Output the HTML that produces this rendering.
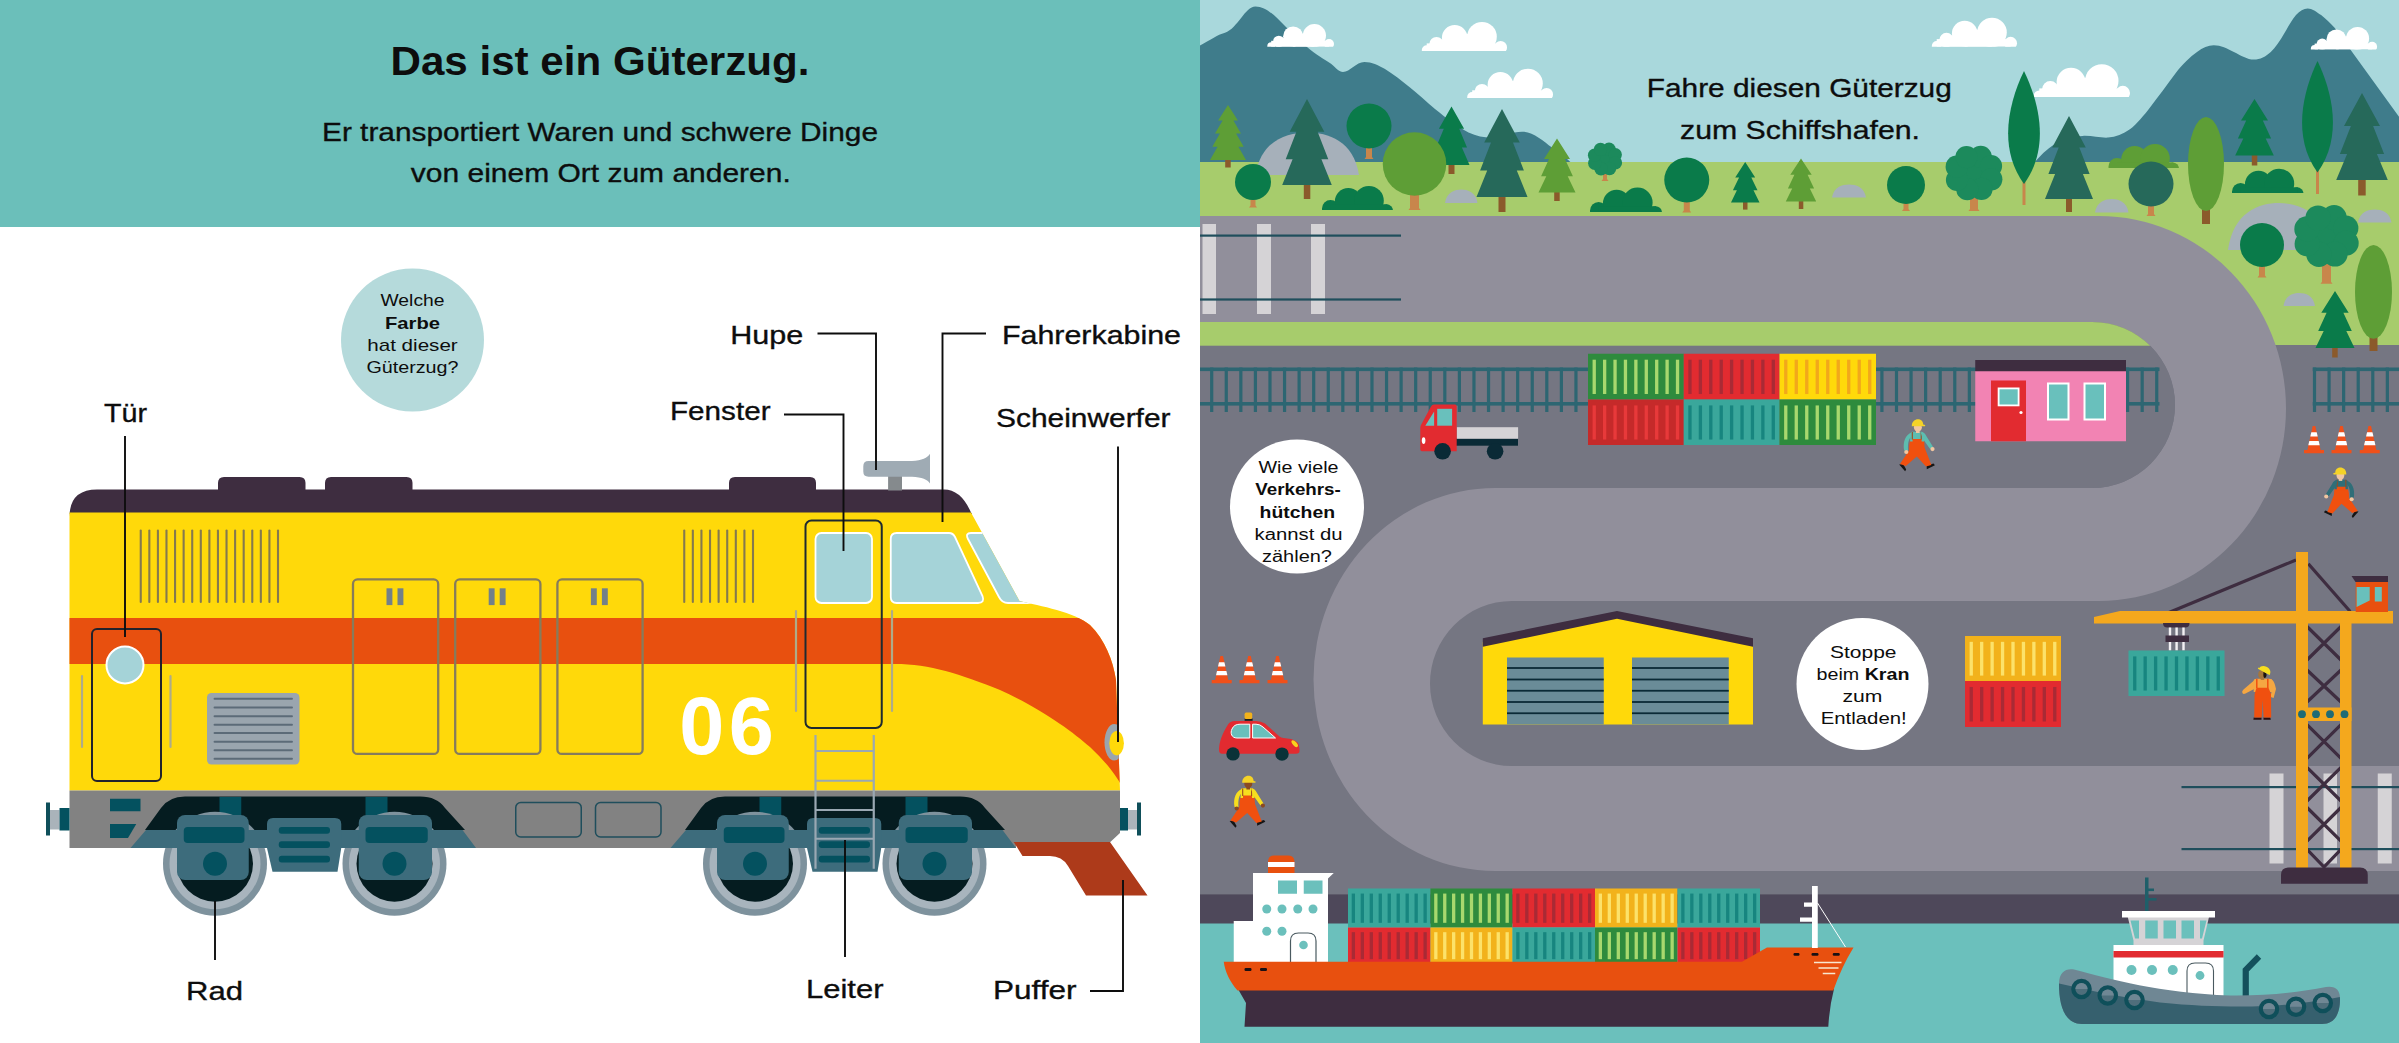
<!DOCTYPE html>
<html lang="de"><head><meta charset="utf-8"><title>Das ist ein Güterzug</title>
<style>
html,body{margin:0;padding:0;background:#fff;}
body{width:2399px;height:1043px;overflow:hidden;}
svg{display:block;font-family:"Liberation Sans", sans-serif;}
</style></head><body>
<svg width="2399" height="1043" viewBox="0 0 2399 1043">
<g id="leftpage">
<rect x="0" y="0" width="1200" height="1043" fill="#ffffff"/>
<rect x="0" y="0" width="1200" height="227" fill="#6BBFBA"/>
<text x="600" y="74.5" font-size="40" text-anchor="middle" font-weight="bold" fill="#0d0d0d" textLength="419" lengthAdjust="spacingAndGlyphs">Das ist ein Güterzug.</text>
<text x="600" y="140.5" font-size="26.4" text-anchor="middle" font-weight="normal" fill="#0d0d0d" stroke="#0d0d0d" stroke-width="0.35" textLength="556" lengthAdjust="spacingAndGlyphs">Er transportiert Waren und schwere Dinge</text>
<text x="600.8" y="181.5" font-size="26.4" text-anchor="middle" font-weight="normal" fill="#0d0d0d" stroke="#0d0d0d" stroke-width="0.35" textLength="380" lengthAdjust="spacingAndGlyphs">von einem Ort zum anderen.</text>
<circle cx="412.5" cy="340" r="71.5" fill="#B5DADB"/>
<text x="412.5" y="306" font-size="17" text-anchor="middle" font-weight="normal" fill="#0d0d0d" textLength="64" lengthAdjust="spacingAndGlyphs">Welche</text>
<text x="412.5" y="328.5" font-size="17" text-anchor="middle" font-weight="bold" fill="#0d0d0d" textLength="55" lengthAdjust="spacingAndGlyphs">Farbe</text>
<text x="412.5" y="350.5" font-size="17" text-anchor="middle" font-weight="normal" fill="#0d0d0d" textLength="90.5" lengthAdjust="spacingAndGlyphs">hat dieser</text>
<text x="412.5" y="373" font-size="17" text-anchor="middle" font-weight="normal" fill="#0d0d0d" textLength="92" lengthAdjust="spacingAndGlyphs">Güterzug?</text>
<g id="train">
<defs><clipPath id="bodyclip"><path id="bodypath" d="M69.5,512.5 H971 L1019.5,601 C1040,606 1075,612 1090,625 C1105,640 1113,660 1116,680 L1120,790.5 H69.5 Z"/></clipPath></defs>
<path d="M69.5,514 V517 Q69.5,489.5 97,489.5 H944 Q961,489.5 971,512.5 L972,514 Z" fill="#3E2D40"/>
<path d="M218,492 V483 Q218,477 224,477 H299.5 Q305.5,477 305.5,483 V492 Z" fill="#3E2D40"/>
<path d="M325,492 V483 Q325,477 331,477 H406.5 Q412.5,477 412.5,483 V492 Z" fill="#3E2D40"/>
<path d="M729,492 V483 Q729,477 735,477 H810 Q816,477 816,483 V492 Z" fill="#3E2D40"/>
<rect x="888.1" y="476" width="13.9" height="14.5" fill="#858a8d"/>
<path d="M868.5,461 H912 C922,460.5 927.5,458 930,453.8 V483.6 C927.5,479.5 922,477.2 912,476.8 H868.5 Q863.3,476.8 863.3,471.6 V466.2 Q863.3,461 868.5,461 Z" fill="#9FABB4"/>
<use href="#bodypath" fill="#FFD90A"/>
<g clip-path="url(#bodyclip)"><path d="M60,618 H1200 V800 H1120 V783 C1116,776 1108,764 1090,747 C1072,731 1040,708 1000,690 C960,674 930,664 895,664 H60 Z" fill="#E8500F"/></g>
<line x1="140.75" y1="530.5" x2="140.75" y2="602" stroke="#85794e" stroke-width="2.1" stroke-linecap="round"/>
<line x1="149.33" y1="530.5" x2="149.33" y2="602" stroke="#85794e" stroke-width="2.1" stroke-linecap="round"/>
<line x1="157.91" y1="530.5" x2="157.91" y2="602" stroke="#85794e" stroke-width="2.1" stroke-linecap="round"/>
<line x1="166.48" y1="530.5" x2="166.48" y2="602" stroke="#85794e" stroke-width="2.1" stroke-linecap="round"/>
<line x1="175.06" y1="530.5" x2="175.06" y2="602" stroke="#85794e" stroke-width="2.1" stroke-linecap="round"/>
<line x1="183.64" y1="530.5" x2="183.64" y2="602" stroke="#85794e" stroke-width="2.1" stroke-linecap="round"/>
<line x1="192.22" y1="530.5" x2="192.22" y2="602" stroke="#85794e" stroke-width="2.1" stroke-linecap="round"/>
<line x1="200.80" y1="530.5" x2="200.80" y2="602" stroke="#85794e" stroke-width="2.1" stroke-linecap="round"/>
<line x1="209.38" y1="530.5" x2="209.38" y2="602" stroke="#85794e" stroke-width="2.1" stroke-linecap="round"/>
<line x1="217.95" y1="530.5" x2="217.95" y2="602" stroke="#85794e" stroke-width="2.1" stroke-linecap="round"/>
<line x1="226.53" y1="530.5" x2="226.53" y2="602" stroke="#85794e" stroke-width="2.1" stroke-linecap="round"/>
<line x1="235.11" y1="530.5" x2="235.11" y2="602" stroke="#85794e" stroke-width="2.1" stroke-linecap="round"/>
<line x1="243.69" y1="530.5" x2="243.69" y2="602" stroke="#85794e" stroke-width="2.1" stroke-linecap="round"/>
<line x1="252.27" y1="530.5" x2="252.27" y2="602" stroke="#85794e" stroke-width="2.1" stroke-linecap="round"/>
<line x1="260.84" y1="530.5" x2="260.84" y2="602" stroke="#85794e" stroke-width="2.1" stroke-linecap="round"/>
<line x1="269.42" y1="530.5" x2="269.42" y2="602" stroke="#85794e" stroke-width="2.1" stroke-linecap="round"/>
<line x1="278.00" y1="530.5" x2="278.00" y2="602" stroke="#85794e" stroke-width="2.1" stroke-linecap="round"/>
<line x1="684.25" y1="530.5" x2="684.25" y2="602" stroke="#85794e" stroke-width="2.1" stroke-linecap="round"/>
<line x1="692.84" y1="530.5" x2="692.84" y2="602" stroke="#85794e" stroke-width="2.1" stroke-linecap="round"/>
<line x1="701.44" y1="530.5" x2="701.44" y2="602" stroke="#85794e" stroke-width="2.1" stroke-linecap="round"/>
<line x1="710.03" y1="530.5" x2="710.03" y2="602" stroke="#85794e" stroke-width="2.1" stroke-linecap="round"/>
<line x1="718.62" y1="530.5" x2="718.62" y2="602" stroke="#85794e" stroke-width="2.1" stroke-linecap="round"/>
<line x1="727.22" y1="530.5" x2="727.22" y2="602" stroke="#85794e" stroke-width="2.1" stroke-linecap="round"/>
<line x1="735.81" y1="530.5" x2="735.81" y2="602" stroke="#85794e" stroke-width="2.1" stroke-linecap="round"/>
<line x1="744.41" y1="530.5" x2="744.41" y2="602" stroke="#85794e" stroke-width="2.1" stroke-linecap="round"/>
<line x1="753.00" y1="530.5" x2="753.00" y2="602" stroke="#85794e" stroke-width="2.1" stroke-linecap="round"/>
<rect x="353" y="579.4" width="85.2" height="174.5" rx="4.5" fill="none" stroke="#867c5c" stroke-width="2.3"/>
<rect x="386.5" y="588.3" width="5.9" height="16.8" fill="#738089"/>
<rect x="397.5" y="588.3" width="5.9" height="16.8" fill="#738089"/>
<rect x="455.2" y="579.4" width="85.2" height="174.5" rx="4.5" fill="none" stroke="#867c5c" stroke-width="2.3"/>
<rect x="488.7" y="588.3" width="5.9" height="16.8" fill="#738089"/>
<rect x="499.7" y="588.3" width="5.9" height="16.8" fill="#738089"/>
<rect x="557.4" y="579.4" width="85.2" height="174.5" rx="4.5" fill="none" stroke="#867c5c" stroke-width="2.3"/>
<rect x="590.9" y="588.3" width="5.9" height="16.8" fill="#738089"/>
<rect x="601.9" y="588.3" width="5.9" height="16.8" fill="#738089"/>
<line x1="82" y1="676" x2="82" y2="747" stroke="#aeab8a" stroke-width="2.2" stroke-linecap="round"/>
<line x1="170.5" y1="676" x2="170.5" y2="747" stroke="#aeab8a" stroke-width="2.2" stroke-linecap="round"/>
<rect x="92" y="629" width="69" height="152" rx="5" fill="none" stroke="#22222c" stroke-width="2"/>
<circle cx="125" cy="665" r="18.5" fill="#A5D3D8" stroke="#ffffff" stroke-width="2"/>
<rect x="207" y="693" width="92.5" height="71.5" rx="4.5" fill="#9AA5AE"/>
<line x1="214.5" y1="698.75" x2="292" y2="698.75" stroke="#5C6B78" stroke-width="1.9" stroke-linecap="round"/>
<line x1="214.5" y1="707.5" x2="292" y2="707.5" stroke="#5C6B78" stroke-width="1.9" stroke-linecap="round"/>
<line x1="214.5" y1="716.25" x2="292" y2="716.25" stroke="#5C6B78" stroke-width="1.9" stroke-linecap="round"/>
<line x1="214.5" y1="724.75" x2="292" y2="724.75" stroke="#5C6B78" stroke-width="1.9" stroke-linecap="round"/>
<line x1="214.5" y1="733" x2="292" y2="733" stroke="#5C6B78" stroke-width="1.9" stroke-linecap="round"/>
<line x1="214.5" y1="741.75" x2="292" y2="741.75" stroke="#5C6B78" stroke-width="1.9" stroke-linecap="round"/>
<line x1="214.5" y1="750.25" x2="292" y2="750.25" stroke="#5C6B78" stroke-width="1.9" stroke-linecap="round"/>
<line x1="214.5" y1="758.75" x2="292" y2="758.75" stroke="#5C6B78" stroke-width="1.9" stroke-linecap="round"/>
<text x="679.2" y="754.4" font-size="81" font-weight="bold" fill="#ffffff" letter-spacing="4.6">06</text>
<line x1="796" y1="611" x2="796" y2="711" stroke="#aeab8a" stroke-width="2.2" stroke-linecap="round"/>
<line x1="892" y1="611" x2="892" y2="711" stroke="#aeab8a" stroke-width="2.2" stroke-linecap="round"/>
<rect x="815.5" y="533" width="56.5" height="70" rx="6" fill="#A5D3D8" stroke="#ffffff" stroke-width="1.8"/>
<path d="M896.75,533 H949 Q953,533 955,537 L982.5,596 Q985,603 978,603 H896.75 Q890.75,603 890.75,597 V539 Q890.75,533 896.75,533 Z" fill="#A5D3D8" stroke="#ffffff" stroke-width="1.8"/>
<g clip-path="url(#bodyclip)"><path d="M971,533 H990 L1030,603 H1008 Q1002,603 999,597 L968,539 Q965,533 971,533 Z" fill="#A5D3D8" stroke="#ffffff" stroke-width="1.8"/></g>
<rect x="805.5" y="520.5" width="76.25" height="207.5" rx="6" fill="none" stroke="#1e2a30" stroke-width="2"/>
<g clip-path="url(#bodyclip)"><ellipse cx="1114.3" cy="742.3" rx="9.8" ry="18.2" fill="#9AA5AE"/></g>
<ellipse cx="1116.6" cy="743.2" rx="7.3" ry="12.2" fill="#FFD90A"/>
<path d="M69.5,790.5 H1120 V833 L1110.3,842 H1016 V848 H69.5 Z" fill="#828282"/>
<rect x="46" y="802.5" width="4" height="33" fill="#0f4f5a"/><rect x="50" y="810" width="9.5" height="19.5" fill="#aab3ba"/><rect x="59.5" y="808" width="10" height="22.5" fill="#04515F"/>
<rect x="1120" y="808" width="8" height="22.5" fill="#04515F"/><rect x="1128" y="810" width="9" height="19.5" fill="#aab3ba"/><rect x="1137" y="802.5" width="4" height="33" fill="#0f4f5a"/>
<rect x="110" y="798.75" width="30.5" height="12.5" fill="#04515F"/>
<path d="M110,824 H136.25 L128,838 H110 Z" fill="#04515F"/>
<rect x="515.75" y="802.5" width="65.5" height="34.5" rx="5" fill="none" stroke="#1f4e5c" stroke-width="1.5"/>
<rect x="595.5" y="802.5" width="65.5" height="34.5" rx="5" fill="none" stroke="#1f4e5c" stroke-width="1.5"/>
<g transform="translate(0,0)">
<path d="M145,830 L161,808 Q169,796.5 185,796.5 H420 Q437,796.5 445,808 L465,830 Z" fill="#051C20"/>
<rect x="219.5" y="797" width="21.75" height="20" fill="#04515F"/><rect x="365.5" y="797" width="22" height="20" fill="#04515F"/>
<circle cx="215" cy="863.75" r="52" fill="#7E929D"/><circle cx="215" cy="863.75" r="45.5" fill="#A8B4BD"/><circle cx="215" cy="863.75" r="38" fill="#051C20"/>
<circle cx="394.5" cy="863.75" r="52" fill="#7E929D"/><circle cx="394.5" cy="863.75" r="45.5" fill="#A8B4BD"/><circle cx="394.5" cy="863.75" r="38" fill="#051C20"/>
<path d="M130.5,848 L146,830 H462.5 L476,848 Z" fill="#3D6C7C"/>
<rect x="177" y="815" width="71.75" height="65" rx="8" fill="#3D6C7C"/>
<rect x="183.75" y="827" width="60.75" height="16" rx="4" fill="#04515F"/>
<rect x="358.75" y="815" width="73.25" height="65" rx="8" fill="#3D6C7C"/>
<rect x="365.5" y="827" width="62.25" height="16" rx="4" fill="#04515F"/>
<circle cx="215" cy="863.75" r="12" fill="#04515F"/><circle cx="394.5" cy="863.75" r="12" fill="#04515F"/>
<path d="M267,824 Q267,818 273,818 H335 Q341.25,818 341.25,824 V848 L337.5,871.75 H272.5 L267,848 Z" fill="#3D6C7C"/>
<rect x="278.75" y="827" width="51.25" height="6.75" rx="3" fill="#04515F"/>
<rect x="278.75" y="841.25" width="51.25" height="6.75" rx="3" fill="#04515F"/>
<rect x="278.75" y="855.75" width="51.25" height="6.75" rx="3" fill="#04515F"/>
</g>
<g transform="translate(540,0)">
<path d="M145,830 L161,808 Q169,796.5 185,796.5 H420 Q437,796.5 445,808 L465,830 Z" fill="#051C20"/>
<rect x="219.5" y="797" width="21.75" height="20" fill="#04515F"/><rect x="365.5" y="797" width="22" height="20" fill="#04515F"/>
<circle cx="215" cy="863.75" r="52" fill="#7E929D"/><circle cx="215" cy="863.75" r="45.5" fill="#A8B4BD"/><circle cx="215" cy="863.75" r="38" fill="#051C20"/>
<circle cx="394.5" cy="863.75" r="52" fill="#7E929D"/><circle cx="394.5" cy="863.75" r="45.5" fill="#A8B4BD"/><circle cx="394.5" cy="863.75" r="38" fill="#051C20"/>
<path d="M130.5,848 L146,830 H462.5 L476,848 Z" fill="#3D6C7C"/>
<rect x="177" y="815" width="71.75" height="65" rx="8" fill="#3D6C7C"/>
<rect x="183.75" y="827" width="60.75" height="16" rx="4" fill="#04515F"/>
<rect x="358.75" y="815" width="73.25" height="65" rx="8" fill="#3D6C7C"/>
<rect x="365.5" y="827" width="62.25" height="16" rx="4" fill="#04515F"/>
<circle cx="215" cy="863.75" r="12" fill="#04515F"/><circle cx="394.5" cy="863.75" r="12" fill="#04515F"/>
<path d="M267,824 Q267,818 273,818 H335 Q341.25,818 341.25,824 V848 L337.5,871.75 H272.5 L267,848 Z" fill="#3D6C7C"/>
<rect x="278.75" y="827" width="51.25" height="6.75" rx="3" fill="#04515F"/>
<rect x="278.75" y="841.25" width="51.25" height="6.75" rx="3" fill="#04515F"/>
<rect x="278.75" y="855.75" width="51.25" height="6.75" rx="3" fill="#04515F"/>
</g>
<path d="M1013.75,842 H1110 L1147.5,895.5 H1086 L1068,866 Q1062,856 1050,856 H1022.5 Z" fill="#AD3A1A"/>
<line x1="815.5" y1="735" x2="815.5" y2="868.75" stroke="#9AA8B3" stroke-width="2.2"/>
<line x1="873.75" y1="735" x2="873.75" y2="868.75" stroke="#9AA8B3" stroke-width="2.2"/>
<line x1="815.5" y1="751" x2="873.75" y2="751" stroke="#9AA8B3" stroke-width="2.2"/>
<line x1="815.5" y1="780.75" x2="873.75" y2="780.75" stroke="#9AA8B3" stroke-width="2.2"/>
<line x1="815.5" y1="810" x2="873.75" y2="810" stroke="#9AA8B3" stroke-width="2.2"/>
<line x1="815.5" y1="838.75" x2="873.75" y2="838.75" stroke="#9AA8B3" stroke-width="2.2"/>
</g>
<text x="104" y="421.8" font-size="26.4" text-anchor="start" font-weight="normal" fill="#0d0d0d" stroke="#0d0d0d" stroke-width="0.35" textLength="43" lengthAdjust="spacingAndGlyphs">Tür</text>
<text x="730.3" y="344.3" font-size="26.4" text-anchor="start" font-weight="normal" fill="#0d0d0d" stroke="#0d0d0d" stroke-width="0.35" textLength="73" lengthAdjust="spacingAndGlyphs">Hupe</text>
<text x="1002" y="344.4" font-size="26.4" text-anchor="start" font-weight="normal" fill="#0d0d0d" stroke="#0d0d0d" stroke-width="0.35" textLength="179" lengthAdjust="spacingAndGlyphs">Fahrerkabine</text>
<text x="670" y="420" font-size="26.4" text-anchor="start" font-weight="normal" fill="#0d0d0d" stroke="#0d0d0d" stroke-width="0.35" textLength="100.5" lengthAdjust="spacingAndGlyphs">Fenster</text>
<text x="996" y="426.5" font-size="26.4" text-anchor="start" font-weight="normal" fill="#0d0d0d" stroke="#0d0d0d" stroke-width="0.35" textLength="174.5" lengthAdjust="spacingAndGlyphs">Scheinwerfer</text>
<text x="186" y="1000" font-size="26.4" text-anchor="start" font-weight="normal" fill="#0d0d0d" stroke="#0d0d0d" stroke-width="0.35" textLength="57" lengthAdjust="spacingAndGlyphs">Rad</text>
<text x="806" y="998" font-size="26.4" text-anchor="start" font-weight="normal" fill="#0d0d0d" stroke="#0d0d0d" stroke-width="0.35" textLength="77.5" lengthAdjust="spacingAndGlyphs">Leiter</text>
<text x="993" y="998.5" font-size="26.4" text-anchor="start" font-weight="normal" fill="#0d0d0d" stroke="#0d0d0d" stroke-width="0.35" textLength="83.5" lengthAdjust="spacingAndGlyphs">Puffer</text>
<path d="M125,436 V637" fill="none" stroke="#0d0d0d" stroke-width="1.9"/>
<path d="M817.5,333.5 H876 V470" fill="none" stroke="#0d0d0d" stroke-width="1.9"/>
<path d="M986,333.5 H942.5 V522" fill="none" stroke="#0d0d0d" stroke-width="1.9"/>
<path d="M784,414.5 H843.5 V551" fill="none" stroke="#0d0d0d" stroke-width="1.9"/>
<path d="M1118,446.5 V742" fill="none" stroke="#0d0d0d" stroke-width="1.9"/>
<path d="M215,901 V960" fill="none" stroke="#0d0d0d" stroke-width="1.9"/>
<path d="M845,840 V957" fill="none" stroke="#0d0d0d" stroke-width="1.9"/>
<path d="M1123,880 V991 H1090" fill="none" stroke="#0d0d0d" stroke-width="1.9"/>
</g>
<g id="rightpage">
<defs><clipPath id="rp"><rect x="1200" y="0" width="1199" height="1043"/></clipPath></defs>
<g clip-path="url(#rp)">
<rect x="1200" y="0" width="1199" height="170" fill="#A9D8DC"/>
<path d="M1195,48 C1208,42 1216,35 1225,32.7 C1238,28 1245,6.4 1255.4,6.4 C1266,6.4 1275,16 1284,25 C1292,33 1300,41 1307,47 C1316,55 1324,59 1331,63.8 C1336,68 1339,72 1343,72 C1350,72 1356,62 1364.4,62 C1372,62 1378,65 1384.6,68.8 C1393,74 1402,81 1409.7,87.2 C1418,94 1427,102 1435,109 C1446,118 1458,127 1468.5,132.5 C1477,136.5 1486,138 1493.6,137.6 C1503,137 1512,131.7 1522,131.7 C1533,131.7 1543,141 1552,147.6 C1560,153 1566,158 1572.5,164 H1195 Z" fill="#3F7C8B"/>
<path d="M2033,164 C2040,156 2047,149 2054.4,144.3 C2063,139 2073,136.5 2082.9,135.9 C2092,135.5 2100,138 2108,137.6 C2116,137 2123,134 2129.9,129.2 C2137,124 2144,115 2150,107.4 C2159,96 2167,85 2175.2,73.8 C2183,63.5 2190,57 2197,52 C2203,47.5 2208,45.3 2213.8,45.3 C2221,45.3 2227,48.5 2233.9,52 C2241,55.5 2247,59.6 2254,59.6 C2260,59.6 2266,56.5 2270.8,52 C2276,47 2280,41 2284.2,33.6 C2288.5,26 2292,20 2296,15.1 C2300,10.5 2303.5,8.4 2307.7,8.4 C2312,8.4 2316.5,11.5 2321.1,15.1 C2326,19 2330,23 2334.6,27.7 L2405,125 V164 Z" fill="#3F7C8B"/>
<clipPath id="cl1267"><rect x="1265.5" y="13.5" width="70.5" height="33.25"/></clipPath>
<g clip-path="url(#cl1267)" fill="#ffffff">
<circle cx="1271.2" cy="46.1" r="3.9"/>
<circle cx="1278.8" cy="41.4" r="5.7"/>
<circle cx="1293.1" cy="36.4" r="10.0"/>
<circle cx="1314.4" cy="35.6" r="11.6"/>
<circle cx="1329.0" cy="44.0" r="5.0"/>
<rect x="1271.2" y="40.8" width="57.9" height="6.0"/>
<rect x="1293.1" y="33.5" width="21.3" height="13.3"/>
<rect x="1275.5" y="38.1" width="19.9" height="8.6"/>
</g>
<clipPath id="cl1422"><rect x="1420" y="8.5" width="89" height="42.5"/></clipPath>
<g clip-path="url(#cl1422)" fill="#ffffff">
<circle cx="1426.7" cy="50.1" r="4.9"/>
<circle cx="1436.5" cy="44.2" r="7.2"/>
<circle cx="1454.7" cy="37.8" r="12.8"/>
<circle cx="1482.0" cy="36.7" r="14.8"/>
<circle cx="1500.6" cy="47.4" r="6.4"/>
<rect x="1426.7" y="43.4" width="74.0" height="7.6"/>
<rect x="1454.7" y="34.0" width="27.2" height="17.0"/>
<rect x="1432.2" y="40.0" width="25.5" height="11.1"/>
</g>
<clipPath id="cl1467"><rect x="1465.5" y="55.25" width="89.5" height="42.75"/></clipPath>
<g clip-path="url(#cl1467)" fill="#ffffff">
<circle cx="1472.2" cy="97.1" r="5.0"/>
<circle cx="1482.0" cy="91.2" r="7.3"/>
<circle cx="1500.4" cy="84.7" r="12.8"/>
<circle cx="1527.9" cy="83.6" r="14.9"/>
<circle cx="1546.6" cy="94.4" r="6.4"/>
<rect x="1472.2" y="90.3" width="74.4" height="7.7"/>
<rect x="1500.4" y="80.9" width="27.4" height="17.1"/>
<rect x="1477.8" y="86.9" width="25.6" height="11.1"/>
</g>
<clipPath id="cl1932"><rect x="1930" y="4.25" width="89" height="42.5"/></clipPath>
<g clip-path="url(#cl1932)" fill="#ffffff">
<circle cx="1936.7" cy="45.9" r="4.9"/>
<circle cx="1946.5" cy="40.0" r="7.2"/>
<circle cx="1964.7" cy="33.6" r="12.8"/>
<circle cx="1992.0" cy="32.5" r="14.8"/>
<circle cx="2010.6" cy="43.2" r="6.4"/>
<rect x="1936.7" y="39.1" width="74.0" height="7.6"/>
<rect x="1964.7" y="29.8" width="27.2" height="17.0"/>
<rect x="1942.2" y="35.7" width="25.5" height="11.1"/>
</g>
<clipPath id="cl2034"><rect x="2032" y="49.0" width="100" height="48.0"/></clipPath>
<g clip-path="url(#cl2034)" fill="#ffffff">
<circle cx="2039.3" cy="96.0" r="5.6"/>
<circle cx="2050.3" cy="89.3" r="8.2"/>
<circle cx="2071.0" cy="82.1" r="14.4"/>
<circle cx="2101.8" cy="80.9" r="16.7"/>
<circle cx="2122.8" cy="93.0" r="7.2"/>
<rect x="2039.3" y="88.4" width="83.5" height="8.6"/>
<rect x="2071.0" y="77.8" width="30.7" height="19.2"/>
<rect x="2045.5" y="84.5" width="28.8" height="12.5"/>
</g>
<clipPath id="cl2311"><rect x="2309" y="16.5" width="70" height="33.0"/></clipPath>
<g clip-path="url(#cl2311)" fill="#ffffff">
<circle cx="2314.6" cy="48.8" r="3.8"/>
<circle cx="2322.2" cy="44.2" r="5.6"/>
<circle cx="2336.4" cy="39.3" r="9.9"/>
<circle cx="2357.6" cy="38.4" r="11.5"/>
<circle cx="2372.1" cy="46.7" r="5.0"/>
<rect x="2314.6" y="43.6" width="57.4" height="5.9"/>
<rect x="2336.4" y="36.3" width="21.1" height="13.2"/>
<rect x="2318.9" y="40.9" width="19.8" height="8.6"/>
</g>
<rect x="1200" y="162" width="1199" height="190" fill="#A7CC6C"/>
<rect x="1200" y="345" width="1199" height="552" fill="#757682"/>
<rect x="1200" y="894.4" width="1199" height="32" fill="#4E485A"/>
<rect x="1200" y="923.5" width="1199" height="125" fill="#6BC0BC"/>
<path d="M1195,216 H2099 A187,192.5 0 0 1 2099,601 H1512 A82,82.5 0 0 0 1512,766 H2405 V871 H1495 A181.5,191.5 0 0 1 1495,488 H2092 A83,83 0 0 0 2092,322 H1195 Z" fill="#918F9B"/>
<clipPath id="uin"><path d="M1195,322 H2092 A83,83 0 0 1 2092,488 H1195 Z"/></clipPath>
<g clip-path="url(#uin)"><rect x="1195" y="322" width="1000" height="170" fill="#757682"/><rect x="1195" y="322" width="1000" height="23.7" fill="#A7CC6C"/></g>
<rect x="1225.2" y="158.0" width="5.5" height="9.5" fill="#8B5A2B"/>
<polygon points="1228.0,105.0 1237.9,120.4 1233.4,120.4 1241.0,133.6 1236.1,133.6 1243.7,146.8 1238.4,146.8 1246.0,160.0 1210.0,160.0 1217.6,146.8 1212.3,146.8 1219.9,133.6 1215.0,133.6 1222.6,120.4 1218.1,120.4" fill="#5E9E36"/>
<path d="M1255.5,175 C1260.7,141.0 1286.5,132.5 1307.2,132.5 C1328.0,132.5 1353.8,141.0 1359,175 Z" fill="#A6B0BA"/>
<path d="M1366.0,126.0 H1372.0 V157.0 L1373.5,159.0 H1364.5 L1366.0,157.0 Z" fill="#C8864B"/>
<circle cx="1369" cy="126" r="22.5" fill="#0A7B4A"/>
<rect x="1448.5" y="163.0" width="6" height="11.0" fill="#8B5A2B"/>
<polygon points="1451.5,106.5 1464.1,128.7 1459.2,128.7 1467.0,147.4 1461.9,147.4 1469.5,165.0 1433.5,165.0 1441.1,147.4 1436.0,147.4 1443.8,128.7 1438.9,128.7" fill="#0A7B4A"/>
<rect x="1303.8" y="183.0" width="6.5" height="16.0" fill="#8B5A2B"/>
<polygon points="1307.0,99.0 1324.3,131.7 1317.6,131.7 1328.3,159.2 1321.4,159.2 1331.8,185.0 1282.2,185.0 1292.6,159.2 1285.7,159.2 1296.4,131.7 1289.7,131.7" fill="#26695A"/>
<path d="M1250.5,182.0 H1255.5 V205.5 L1257.0,207.5 H1249.0 L1250.5,205.5 Z" fill="#C8864B"/>
<circle cx="1253" cy="182" r="18" fill="#0A7B4A"/>
<clipPath id="bu1"><rect x="1320" y="174.5" width="75" height="35.5"/></clipPath>
<g clip-path="url(#bu1)" fill="#0A7B4A">
<circle cx="1330.5" cy="208.6" r="8.5"/>
<circle cx="1348.3" cy="201.5" r="13.5"/>
<circle cx="1368.9" cy="200.8" r="14.9"/>
<circle cx="1386.6" cy="210.7" r="6.4"/>
<rect x="1330.5" y="204.3" width="56.8" height="5.7"/>
</g>
<path d="M1410.0,164.0 H1419.0 V208.0 L1420.5,210.0 H1408.5 L1410.0,208.0 Z" fill="#C8864B"/>
<circle cx="1414.5" cy="164" r="31.75" fill="#5E9E36"/>
<path d="M1445,203 C1446.6,192.2 1454.8,189.5 1461.2,189.5 C1467.8,189.5 1475.9,192.2 1477.5,203 Z" fill="#A6B0BA"/>
<rect x="1498.5" y="195.0" width="7" height="17.0" fill="#8B5A2B"/>
<polygon points="1502.0,109.0 1519.8,142.4 1513.0,142.4 1523.9,170.6 1516.8,170.6 1527.5,197.0 1476.5,197.0 1487.2,170.6 1480.1,170.6 1491.0,142.4 1484.2,142.4" fill="#26695A"/>
<rect x="1554.2" y="190.5" width="5.5" height="10.5" fill="#8B5A2B"/>
<polygon points="1557.0,138.5 1570.0,159.0 1565.0,159.0 1572.9,176.3 1567.7,176.3 1575.5,192.5 1538.5,192.5 1546.3,176.3 1541.1,176.3 1549.0,159.0 1544.0,159.0" fill="#5E9E36"/>
<path d="M1603.0,159.0 H1607.0 V179.0 L1608.5,181.0 H1601.5 L1603.0,179.0 Z" fill="#C8864B"/>
<g fill="#1C8A5C"><circle cx="1605" cy="159" r="12.6"/>
<circle cx="1609.0" cy="149.3" r="6.7"/>
<circle cx="1615.2" cy="154.8" r="6.7"/>
<circle cx="1615.4" cy="162.8" r="6.7"/>
<circle cx="1609.5" cy="168.6" r="6.7"/>
<circle cx="1601.0" cy="168.7" r="6.7"/>
<circle cx="1594.8" cy="163.2" r="6.7"/>
<circle cx="1594.6" cy="155.2" r="6.7"/>
<circle cx="1600.5" cy="149.4" r="6.7"/>
</g>
<clipPath id="bu2"><rect x="1588" y="176.0" width="76" height="36.0"/></clipPath>
<g clip-path="url(#bu2)" fill="#0A7B4A">
<circle cx="1598.6" cy="210.6" r="8.6"/>
<circle cx="1616.6" cy="203.4" r="13.7"/>
<circle cx="1637.5" cy="202.6" r="15.1"/>
<circle cx="1655.5" cy="212.7" r="6.5"/>
<rect x="1598.6" y="206.2" width="57.6" height="5.8"/>
</g>
<path d="M1683.8,180.0 H1689.8 V210.5 L1691.2,212.5 H1682.2 L1683.8,210.5 Z" fill="#C8864B"/>
<circle cx="1686.75" cy="180" r="22.5" fill="#0A7B4A"/>
<rect x="1743.0" y="200.4" width="4.5" height="9.2" fill="#8B5A2B"/>
<polygon points="1745.2,162.0 1755.2,177.4 1751.3,177.4 1757.5,190.3 1753.5,190.3 1759.5,202.4 1731.0,202.4 1736.9,190.3 1732.9,190.3 1739.1,177.4 1735.2,177.4" fill="#0A7B4A"/>
<rect x="1798.8" y="199.5" width="4.5" height="9.5" fill="#8B5A2B"/>
<polygon points="1801.0,158.4 1811.7,174.8 1807.6,174.8 1814.1,188.6 1809.8,188.6 1816.2,201.5 1785.8,201.5 1792.2,188.6 1787.9,188.6 1794.4,174.8 1790.3,174.8" fill="#5E9E36"/>
<path d="M1832,197.5 C1833.7,187.1 1842.2,184.5 1849.0,184.5 C1855.8,184.5 1864.3,187.1 1866,197.5 Z" fill="#A6B0BA"/>
<path d="M1903.5,185.0 H1908.5 V209.0 L1910.0,211.0 H1902.0 L1903.5,209.0 Z" fill="#C8864B"/>
<circle cx="1906" cy="185" r="19" fill="#0A7B4A"/>
<path d="M1970.0,173.0 H1978.0 V209.0 L1979.5,211.0 H1968.5 L1970.0,209.0 Z" fill="#C8864B"/>
<g fill="#1C8A5C"><circle cx="1974" cy="173" r="21.0"/>
<circle cx="1980.7" cy="156.8" r="11.1"/>
<circle cx="1991.0" cy="166.0" r="11.1"/>
<circle cx="1991.3" cy="179.3" r="11.1"/>
<circle cx="1981.5" cy="188.9" r="11.1"/>
<circle cx="1967.3" cy="189.2" r="11.1"/>
<circle cx="1957.0" cy="180.0" r="11.1"/>
<circle cx="1956.7" cy="166.7" r="11.1"/>
<circle cx="1966.5" cy="157.1" r="11.1"/>
</g>
<rect x="2022.5" y="174.0" width="3" height="31.0" fill="#C8864B"/>
<path d="M2024,71 C2039.3,102.6 2050.3,147.8 2024,184 C1997.7,147.8 2008.7,102.6 2024,71 Z" fill="#0A7B4A"/>
<rect x="2066.0" y="197.0" width="6" height="15.0" fill="#8B5A2B"/>
<polygon points="2069.0,116.0 2085.8,147.5 2079.3,147.5 2089.6,174.1 2082.9,174.1 2093.0,199.0 2045.0,199.0 2055.1,174.1 2048.4,174.1 2058.7,147.5 2052.2,147.5" fill="#26695A"/>
<path d="M2095,212.5 C2096.7,201.7 2105.1,199 2111.8,199 C2118.4,199 2126.8,201.7 2128.5,212.5 Z" fill="#A6B0BA"/>
<clipPath id="bu3"><rect x="2106.5" y="132.8" width="74.5" height="35.2"/></clipPath>
<g clip-path="url(#bu3)" fill="#5E9E36">
<circle cx="2117.0" cy="166.6" r="8.5"/>
<circle cx="2134.6" cy="159.5" r="13.4"/>
<circle cx="2155.0" cy="158.8" r="14.8"/>
<circle cx="2172.7" cy="168.7" r="6.3"/>
<rect x="2117.0" y="162.4" width="56.4" height="5.6"/>
</g>
<path d="M2148.0,184.0 H2154.0 V214.0 L2155.5,216.0 H2146.5 L2148.0,214.0 Z" fill="#C8864B"/>
<circle cx="2151" cy="184" r="22.5" fill="#26695A"/>
<rect x="2202.0" y="203.0" width="8" height="21.0" fill="#8B5A2B"/>
<rect x="2188.0" y="117.0" width="36.0" height="94.0" rx="18.0" ry="47.0" fill="#5E9E36"/>
<rect x="2251.8" y="153.5" width="5.5" height="12.0" fill="#8B5A2B"/>
<polygon points="2254.5,99.0 2268.0,120.5 2262.8,120.5 2271.1,138.6 2265.7,138.6 2273.8,155.5 2235.2,155.5 2243.3,138.6 2237.9,138.6 2246.2,120.5 2241.0,120.5" fill="#0A7B4A"/>
<clipPath id="bu4"><rect x="2230" y="157.2" width="75.5" height="35.8"/></clipPath>
<g clip-path="url(#bu4)" fill="#0A7B4A">
<circle cx="2240.6" cy="191.6" r="8.6"/>
<circle cx="2258.5" cy="184.4" r="13.6"/>
<circle cx="2279.2" cy="183.7" r="15.0"/>
<circle cx="2297.1" cy="193.7" r="6.4"/>
<rect x="2240.6" y="187.3" width="57.2" height="5.7"/>
</g>
<rect x="2316.0" y="162.5" width="3" height="31.5" fill="#C8864B"/>
<path d="M2317.5,61 C2332.3,92.2 2343.1,136.8 2317.5,172.5 C2291.9,136.8 2302.7,92.2 2317.5,61 Z" fill="#0A7B4A"/>
<rect x="2358.2" y="178.0" width="7.5" height="17.5" fill="#8B5A2B"/>
<polygon points="2362.0,93.0 2380.0,126.1 2373.1,126.1 2384.1,153.9 2376.9,153.9 2387.8,180.0 2336.2,180.0 2347.1,153.9 2339.9,153.9 2350.9,126.1 2344.0,126.1" fill="#26695A"/>
<path d="M2228,250 C2233.1,212.4 2258.6,203 2279.0,203 C2299.4,203 2324.9,212.4 2330,250 Z" fill="#A6B0BA"/>
<path d="M2358,222.5 C2359.7,212.1 2368.1,209.5 2374.8,209.5 C2381.4,209.5 2389.8,212.1 2391.5,222.5 Z" fill="#A6B0BA"/>
<path d="M2259.0,245.0 H2265.0 V275.5 L2266.5,277.5 H2257.5 L2259.0,275.5 Z" fill="#C8864B"/>
<circle cx="2262" cy="245" r="22" fill="#0A7B4A"/>
<path d="M2322.0,236.0 H2331.0 V281.8 L2332.5,283.8 H2320.5 L2322.0,281.8 Z" fill="#C8864B"/>
<g fill="#1C8A5C"><circle cx="2326.5" cy="236" r="23.8"/>
<circle cx="2334.1" cy="217.6" r="12.6"/>
<circle cx="2345.8" cy="228.1" r="12.6"/>
<circle cx="2346.1" cy="243.1" r="12.6"/>
<circle cx="2335.0" cy="254.0" r="12.6"/>
<circle cx="2318.9" cy="254.4" r="12.6"/>
<circle cx="2307.2" cy="243.9" r="12.6"/>
<circle cx="2306.9" cy="228.9" r="12.6"/>
<circle cx="2318.0" cy="218.0" r="12.6"/>
</g>
<path d="M2283.5,306 C2285.1,295.6 2292.9,293 2299.2,293 C2305.6,293 2313.4,295.6 2315,306 Z" fill="#A6B0BA"/>
<rect x="2332.2" y="346.0" width="5.5" height="11.5" fill="#8B5A2B"/>
<polygon points="2335.0,291.0 2348.7,312.7 2343.4,312.7 2351.8,330.9 2346.3,330.9 2354.5,348.0 2315.5,348.0 2323.7,330.9 2318.2,330.9 2326.6,312.7 2321.3,312.7" fill="#0A7B4A"/>
<rect x="2369.5" y="330.8" width="8" height="20.2" fill="#8B5A2B"/>
<rect x="2355.0" y="245.0" width="37.0" height="93.8" rx="18.5" ry="46.9" fill="#5E9E36"/>
<rect x="1202.5" y="224" width="13.5" height="90" fill="#D5D3D6"/>
<rect x="1257" y="224" width="14" height="90" fill="#D5D3D6"/>
<rect x="1311" y="224" width="14" height="90" fill="#D5D3D6"/>
<rect x="1200" y="234.5" width="201" height="2.2" fill="#1F4E5C"/>
<rect x="1200" y="298.4" width="201" height="2.2" fill="#1F4E5C"/>
<rect x="2269.5" y="773.5" width="14" height="90.0" fill="#D5D3D6"/>
<rect x="2323.5" y="773.5" width="13.5" height="90.0" fill="#D5D3D6"/>
<rect x="2377.75" y="773.5" width="14" height="90.0" fill="#D5D3D6"/>
<rect x="2181.5" y="786" width="218.5" height="2.2" fill="#1F4E5C"/>
<rect x="2181.5" y="848" width="218.5" height="2.2" fill="#1F4E5C"/>
<rect x="1200" y="367.5" width="388" height="3.6" fill="#2D6672"/>
<rect x="1200" y="402" width="388" height="3.6" fill="#2D6672"/>
<rect x="1210.10" y="367.5" width="3.2" height="44.5" fill="#2D6672"/>
<rect x="1224.67" y="367.5" width="3.2" height="44.5" fill="#2D6672"/>
<rect x="1239.24" y="367.5" width="3.2" height="44.5" fill="#2D6672"/>
<rect x="1253.81" y="367.5" width="3.2" height="44.5" fill="#2D6672"/>
<rect x="1268.38" y="367.5" width="3.2" height="44.5" fill="#2D6672"/>
<rect x="1282.95" y="367.5" width="3.2" height="44.5" fill="#2D6672"/>
<rect x="1297.52" y="367.5" width="3.2" height="44.5" fill="#2D6672"/>
<rect x="1312.09" y="367.5" width="3.2" height="44.5" fill="#2D6672"/>
<rect x="1326.66" y="367.5" width="3.2" height="44.5" fill="#2D6672"/>
<rect x="1341.23" y="367.5" width="3.2" height="44.5" fill="#2D6672"/>
<rect x="1355.80" y="367.5" width="3.2" height="44.5" fill="#2D6672"/>
<rect x="1370.37" y="367.5" width="3.2" height="44.5" fill="#2D6672"/>
<rect x="1384.94" y="367.5" width="3.2" height="44.5" fill="#2D6672"/>
<rect x="1399.51" y="367.5" width="3.2" height="44.5" fill="#2D6672"/>
<rect x="1414.08" y="367.5" width="3.2" height="44.5" fill="#2D6672"/>
<rect x="1428.65" y="367.5" width="3.2" height="44.5" fill="#2D6672"/>
<rect x="1443.22" y="367.5" width="3.2" height="44.5" fill="#2D6672"/>
<rect x="1457.79" y="367.5" width="3.2" height="44.5" fill="#2D6672"/>
<rect x="1472.36" y="367.5" width="3.2" height="44.5" fill="#2D6672"/>
<rect x="1486.93" y="367.5" width="3.2" height="44.5" fill="#2D6672"/>
<rect x="1501.50" y="367.5" width="3.2" height="44.5" fill="#2D6672"/>
<rect x="1516.07" y="367.5" width="3.2" height="44.5" fill="#2D6672"/>
<rect x="1530.64" y="367.5" width="3.2" height="44.5" fill="#2D6672"/>
<rect x="1545.21" y="367.5" width="3.2" height="44.5" fill="#2D6672"/>
<rect x="1559.78" y="367.5" width="3.2" height="44.5" fill="#2D6672"/>
<rect x="1574.35" y="367.5" width="3.2" height="44.5" fill="#2D6672"/>
<rect x="1876" y="367.5" width="100" height="3.6" fill="#2D6672"/>
<rect x="1876" y="402" width="100" height="3.6" fill="#2D6672"/>
<rect x="1880.32" y="367.5" width="3.2" height="44.5" fill="#2D6672"/>
<rect x="1894.89" y="367.5" width="3.2" height="44.5" fill="#2D6672"/>
<rect x="1909.46" y="367.5" width="3.2" height="44.5" fill="#2D6672"/>
<rect x="1924.03" y="367.5" width="3.2" height="44.5" fill="#2D6672"/>
<rect x="1938.60" y="367.5" width="3.2" height="44.5" fill="#2D6672"/>
<rect x="1953.17" y="367.5" width="3.2" height="44.5" fill="#2D6672"/>
<rect x="1967.74" y="367.5" width="3.2" height="44.5" fill="#2D6672"/>
<rect x="2125" y="367.5" width="34.5" height="3.6" fill="#2D6672"/>
<rect x="2125" y="402" width="34.5" height="3.6" fill="#2D6672"/>
<rect x="2126.00" y="367.5" width="3.2" height="44.5" fill="#2D6672"/>
<rect x="2140.57" y="367.5" width="3.2" height="44.5" fill="#2D6672"/>
<rect x="2155.14" y="367.5" width="3.2" height="44.5" fill="#2D6672"/>
<rect x="2312.75" y="367.5" width="87.25" height="3.6" fill="#2D6672"/>
<rect x="2312.75" y="402" width="87.25" height="3.6" fill="#2D6672"/>
<rect x="2312.90" y="367.5" width="3.2" height="44.5" fill="#2D6672"/>
<rect x="2327.47" y="367.5" width="3.2" height="44.5" fill="#2D6672"/>
<rect x="2342.04" y="367.5" width="3.2" height="44.5" fill="#2D6672"/>
<rect x="2356.61" y="367.5" width="3.2" height="44.5" fill="#2D6672"/>
<rect x="2371.18" y="367.5" width="3.2" height="44.5" fill="#2D6672"/>
<rect x="2385.75" y="367.5" width="3.2" height="44.5" fill="#2D6672"/>
<rect x="1588.00" y="353.75" width="95.75" height="45.75" fill="#2E8B3D"/>
<rect x="1592.57" y="359.70" width="3.30" height="34.31" fill="#A8D86E"/>
<rect x="1602.99" y="359.70" width="3.30" height="34.31" fill="#A8D86E"/>
<rect x="1613.40" y="359.70" width="3.30" height="34.31" fill="#A8D86E"/>
<rect x="1623.81" y="359.70" width="3.30" height="34.31" fill="#A8D86E"/>
<rect x="1634.22" y="359.70" width="3.30" height="34.31" fill="#A8D86E"/>
<rect x="1644.64" y="359.70" width="3.30" height="34.31" fill="#A8D86E"/>
<rect x="1655.05" y="359.70" width="3.30" height="34.31" fill="#A8D86E"/>
<rect x="1665.46" y="359.70" width="3.30" height="34.31" fill="#A8D86E"/>
<rect x="1675.88" y="359.70" width="3.30" height="34.31" fill="#A8D86E"/>
<rect x="1588.00" y="399.50" width="95.75" height="45.50" fill="#C52A2A"/>
<rect x="1592.57" y="405.42" width="3.30" height="34.12" fill="#E8393A"/>
<rect x="1602.99" y="405.42" width="3.30" height="34.12" fill="#E8393A"/>
<rect x="1613.40" y="405.42" width="3.30" height="34.12" fill="#E8393A"/>
<rect x="1623.81" y="405.42" width="3.30" height="34.12" fill="#E8393A"/>
<rect x="1634.22" y="405.42" width="3.30" height="34.12" fill="#E8393A"/>
<rect x="1644.64" y="405.42" width="3.30" height="34.12" fill="#E8393A"/>
<rect x="1655.05" y="405.42" width="3.30" height="34.12" fill="#E8393A"/>
<rect x="1665.46" y="405.42" width="3.30" height="34.12" fill="#E8393A"/>
<rect x="1675.88" y="405.42" width="3.30" height="34.12" fill="#E8393A"/>
<rect x="1683.75" y="353.75" width="95.75" height="45.75" fill="#E22B30"/>
<rect x="1688.32" y="359.70" width="3.30" height="34.31" fill="#A92A35"/>
<rect x="1698.74" y="359.70" width="3.30" height="34.31" fill="#A92A35"/>
<rect x="1709.15" y="359.70" width="3.30" height="34.31" fill="#A92A35"/>
<rect x="1719.56" y="359.70" width="3.30" height="34.31" fill="#A92A35"/>
<rect x="1729.97" y="359.70" width="3.30" height="34.31" fill="#A92A35"/>
<rect x="1740.39" y="359.70" width="3.30" height="34.31" fill="#A92A35"/>
<rect x="1750.80" y="359.70" width="3.30" height="34.31" fill="#A92A35"/>
<rect x="1761.21" y="359.70" width="3.30" height="34.31" fill="#A92A35"/>
<rect x="1771.63" y="359.70" width="3.30" height="34.31" fill="#A92A35"/>
<rect x="1683.75" y="399.50" width="95.75" height="45.50" fill="#3AA79B"/>
<rect x="1688.32" y="405.42" width="3.30" height="34.12" fill="#17857F"/>
<rect x="1698.74" y="405.42" width="3.30" height="34.12" fill="#17857F"/>
<rect x="1709.15" y="405.42" width="3.30" height="34.12" fill="#17857F"/>
<rect x="1719.56" y="405.42" width="3.30" height="34.12" fill="#17857F"/>
<rect x="1729.97" y="405.42" width="3.30" height="34.12" fill="#17857F"/>
<rect x="1740.39" y="405.42" width="3.30" height="34.12" fill="#17857F"/>
<rect x="1750.80" y="405.42" width="3.30" height="34.12" fill="#17857F"/>
<rect x="1761.21" y="405.42" width="3.30" height="34.12" fill="#17857F"/>
<rect x="1771.63" y="405.42" width="3.30" height="34.12" fill="#17857F"/>
<rect x="1779.50" y="353.75" width="96.50" height="45.75" fill="#FFD90A"/>
<rect x="1784.12" y="359.70" width="3.30" height="34.31" fill="#F2A81B"/>
<rect x="1794.62" y="359.70" width="3.30" height="34.31" fill="#F2A81B"/>
<rect x="1805.11" y="359.70" width="3.30" height="34.31" fill="#F2A81B"/>
<rect x="1815.61" y="359.70" width="3.30" height="34.31" fill="#F2A81B"/>
<rect x="1826.10" y="359.70" width="3.30" height="34.31" fill="#F2A81B"/>
<rect x="1836.59" y="359.70" width="3.30" height="34.31" fill="#F2A81B"/>
<rect x="1847.09" y="359.70" width="3.30" height="34.31" fill="#F2A81B"/>
<rect x="1857.58" y="359.70" width="3.30" height="34.31" fill="#F2A81B"/>
<rect x="1868.08" y="359.70" width="3.30" height="34.31" fill="#F2A81B"/>
<rect x="1779.50" y="399.50" width="96.50" height="45.50" fill="#2E8B3D"/>
<rect x="1784.12" y="405.42" width="3.30" height="34.12" fill="#A8D86E"/>
<rect x="1794.62" y="405.42" width="3.30" height="34.12" fill="#A8D86E"/>
<rect x="1805.11" y="405.42" width="3.30" height="34.12" fill="#A8D86E"/>
<rect x="1815.61" y="405.42" width="3.30" height="34.12" fill="#A8D86E"/>
<rect x="1826.10" y="405.42" width="3.30" height="34.12" fill="#A8D86E"/>
<rect x="1836.59" y="405.42" width="3.30" height="34.12" fill="#A8D86E"/>
<rect x="1847.09" y="405.42" width="3.30" height="34.12" fill="#A8D86E"/>
<rect x="1857.58" y="405.42" width="3.30" height="34.12" fill="#A8D86E"/>
<rect x="1868.08" y="405.42" width="3.30" height="34.12" fill="#A8D86E"/>
<rect x="1965.00" y="636.00" width="96.00" height="45.00" fill="#F2B21B"/>
<rect x="1969.59" y="641.85" width="3.30" height="33.75" fill="#FCE26A"/>
<rect x="1980.03" y="641.85" width="3.30" height="33.75" fill="#FCE26A"/>
<rect x="1990.47" y="641.85" width="3.30" height="33.75" fill="#FCE26A"/>
<rect x="2000.91" y="641.85" width="3.30" height="33.75" fill="#FCE26A"/>
<rect x="2011.35" y="641.85" width="3.30" height="33.75" fill="#FCE26A"/>
<rect x="2021.79" y="641.85" width="3.30" height="33.75" fill="#FCE26A"/>
<rect x="2032.23" y="641.85" width="3.30" height="33.75" fill="#FCE26A"/>
<rect x="2042.67" y="641.85" width="3.30" height="33.75" fill="#FCE26A"/>
<rect x="2053.11" y="641.85" width="3.30" height="33.75" fill="#FCE26A"/>
<rect x="1965.00" y="681.00" width="96.00" height="46.00" fill="#E22B30"/>
<rect x="1969.59" y="686.98" width="3.30" height="34.50" fill="#A92A35"/>
<rect x="1980.03" y="686.98" width="3.30" height="34.50" fill="#A92A35"/>
<rect x="1990.47" y="686.98" width="3.30" height="34.50" fill="#A92A35"/>
<rect x="2000.91" y="686.98" width="3.30" height="34.50" fill="#A92A35"/>
<rect x="2011.35" y="686.98" width="3.30" height="34.50" fill="#A92A35"/>
<rect x="2021.79" y="686.98" width="3.30" height="34.50" fill="#A92A35"/>
<rect x="2032.23" y="686.98" width="3.30" height="34.50" fill="#A92A35"/>
<rect x="2042.67" y="686.98" width="3.30" height="34.50" fill="#A92A35"/>
<rect x="2053.11" y="686.98" width="3.30" height="34.50" fill="#A92A35"/>
<g id="truck">
<rect x="1456" y="438.7" width="62" height="7" fill="#0A2A36"/>
<rect x="1456.7" y="427.2" width="61.4" height="11.5" fill="#D5D3D6"/>
<path d="M1434,404.6 H1455 Q1456.7,404.6 1456.7,406.5 V451.3 H1422 Q1420.3,451.3 1420.3,449.5 V428 Q1420.3,426.5 1421,425 L1431,406.5 Q1432,404.6 1434,404.6 Z" fill="#E22B30"/>
<path d="M1425.3,425.7 H1434.1 V411.5 Z" fill="#69C0BC"/>
<rect x="1437.2" y="408.8" width="14.9" height="16.9" fill="#69C0BC"/>
<ellipse cx="1423.6" cy="440.6" rx="1.8" ry="3.4" fill="#ffffff"/>
<circle cx="1442.6" cy="451.3" r="8.3" fill="#0A2A36"/><circle cx="1495.1" cy="451.3" r="8.3" fill="#0A2A36"/>
</g>
<g id="house">
<rect x="1975.25" y="371" width="150.75" height="70.25" fill="#F283B3"/>
<rect x="1975.25" y="360" width="150.75" height="11.25" fill="#3E2D40"/>
<rect x="1991" y="380.5" width="35" height="60.75" fill="#E22B30"/>
<rect x="1998.6" y="388.4" width="20" height="17" fill="#69C0BC" stroke="#ffffff" stroke-width="1.8"/>
<circle cx="2021" cy="412.5" r="1.6" fill="#ffffff"/>
<rect x="2048" y="383.5" width="20.5" height="36" fill="#69C0BC" stroke="#ffffff" stroke-width="2"/>
<rect x="2084.5" y="383.5" width="20.5" height="36" fill="#69C0BC" stroke="#ffffff" stroke-width="2"/>
</g>
<g transform="translate(1221.7,656)">
<path d="M-1.3,0 H1.3 L6.6,24 H10 V27.3 H-10 V24 H-6.6 Z" fill="#F0501A"/>
<path d="M-2.7,6.2 H2.7 L3.7,10.6 H-3.7 Z" fill="#ffffff"/>
<path d="M-4.7,15 H4.7 L5.7,19.3 H-5.7 Z" fill="#ffffff"/>
</g>
<g transform="translate(1249.5,656)">
<path d="M-1.3,0 H1.3 L6.6,24 H10 V27.3 H-10 V24 H-6.6 Z" fill="#F0501A"/>
<path d="M-2.7,6.2 H2.7 L3.7,10.6 H-3.7 Z" fill="#ffffff"/>
<path d="M-4.7,15 H4.7 L5.7,19.3 H-5.7 Z" fill="#ffffff"/>
</g>
<g transform="translate(1277.5,656)">
<path d="M-1.3,0 H1.3 L6.6,24 H10 V27.3 H-10 V24 H-6.6 Z" fill="#F0501A"/>
<path d="M-2.7,6.2 H2.7 L3.7,10.6 H-3.7 Z" fill="#ffffff"/>
<path d="M-4.7,15 H4.7 L5.7,19.3 H-5.7 Z" fill="#ffffff"/>
</g>
<g transform="translate(2314,426)">
<path d="M-1.3,0 H1.3 L6.6,24 H10 V27.3 H-10 V24 H-6.6 Z" fill="#F0501A"/>
<path d="M-2.7,6.2 H2.7 L3.7,10.6 H-3.7 Z" fill="#ffffff"/>
<path d="M-4.7,15 H4.7 L5.7,19.3 H-5.7 Z" fill="#ffffff"/>
</g>
<g transform="translate(2341.5,426)">
<path d="M-1.3,0 H1.3 L6.6,24 H10 V27.3 H-10 V24 H-6.6 Z" fill="#F0501A"/>
<path d="M-2.7,6.2 H2.7 L3.7,10.6 H-3.7 Z" fill="#ffffff"/>
<path d="M-4.7,15 H4.7 L5.7,19.3 H-5.7 Z" fill="#ffffff"/>
</g>
<g transform="translate(2369.75,426)">
<path d="M-1.3,0 H1.3 L6.6,24 H10 V27.3 H-10 V24 H-6.6 Z" fill="#F0501A"/>
<path d="M-2.7,6.2 H2.7 L3.7,10.6 H-3.7 Z" fill="#ffffff"/>
<path d="M-4.7,15 H4.7 L5.7,19.3 H-5.7 Z" fill="#ffffff"/>
</g>
<g transform="translate(1917.6,419.5) scale(1.0,1.0)">
<path d="M-18.4,45 L-12.5,51.8 L-11.4,50 L-14.5,44.5 Z" fill="#151515"/>
<path d="M9.2,49.8 L17.3,45.8 L16,44 L9,46 Z" fill="#151515"/>
<path d="M-8.4,26 L-8.6,31 L-17.6,44.5 L-11.8,46.5 L-0.8,37 L8.4,47 L13.8,45.5 L7,28 L6.5,21.5 H-7.5 Z" fill="#F0500F"/>
<path d="M-6,13 C-12,15 -15,22 -13.5,31 L-9.5,31 C-10,24 -9,19 -6,17 Z" fill="#5DBDB0"/>
<circle cx="-11.3" cy="32.5" r="2.1" fill="#F2C6A0"/>
<path d="M-7,13.5 Q-7,12.2 -5,12.2 H3.5 Q5.5,12.2 5.5,13.5 L6.5,22 H-7.5 Z" fill="#5DBDB0"/>
<rect x="-5" y="19.5" width="9" height="4" fill="#F0500F"/>
<path d="M-5.3,12.4 V20 M3.6,12.4 V20" stroke="#9a4a20" stroke-width="1.1" fill="none"/>
<path d="M3,12.6 C6,12.6 7.5,14 9,17 L15.5,27.5 L12.5,29.5 L5,19 Z" fill="#5DBDB0"/>
<circle cx="14.9" cy="29.6" r="2.1" fill="#F2C6A0"/>
<rect x="-1.6" y="9.5" width="3.6" height="4" fill="#F2C6A0"/>
<ellipse cx="0.3" cy="7.8" rx="4" ry="4.3" fill="#F2C6A0"/>
<path d="M-5.8,6.6 C-5.8,-2.2 5.6,-2.2 5.6,5 L7.6,5.4 L7.4,6.8 L-5.8,6.8 Z" fill="#F5D327"/>
</g>
<g transform="translate(2340.7,467.8) scale(-0.97,0.97)">
<path d="M-18.4,45 L-12.5,51.8 L-11.4,50 L-14.5,44.5 Z" fill="#151515"/>
<path d="M9.2,49.8 L17.3,45.8 L16,44 L9,46 Z" fill="#151515"/>
<path d="M-8.4,26 L-8.6,31 L-17.6,44.5 L-11.8,46.5 L-0.8,37 L8.4,47 L13.8,45.5 L7,28 L6.5,21.5 H-7.5 Z" fill="#F0500F"/>
<path d="M-6,13 C-12,15 -15,22 -13.5,31 L-9.5,31 C-10,24 -9,19 -6,17 Z" fill="#2F6E78"/>
<circle cx="-11.3" cy="32.5" r="2.1" fill="#F2C6A0"/>
<path d="M-7,13.5 Q-7,12.2 -5,12.2 H3.5 Q5.5,12.2 5.5,13.5 L6.5,22 H-7.5 Z" fill="#2F6E78"/>
<rect x="-5" y="19.5" width="9" height="4" fill="#F0500F"/>
<path d="M-5.3,12.4 V20 M3.6,12.4 V20" stroke="#9a4a20" stroke-width="1.1" fill="none"/>
<path d="M3,12.6 C6,12.6 7.5,14 9,17 L15.5,27.5 L12.5,29.5 L5,19 Z" fill="#2F6E78"/>
<circle cx="14.9" cy="29.6" r="2.1" fill="#F2C6A0"/>
<rect x="-1.6" y="9.5" width="3.6" height="4" fill="#F2C6A0"/>
<ellipse cx="0.3" cy="7.8" rx="4" ry="4.3" fill="#F2C6A0"/>
<path d="M-5.8,6.6 C-5.8,-2.2 5.6,-2.2 5.6,5 L7.6,5.4 L7.4,6.8 L-5.8,6.8 Z" fill="#F5D327"/>
</g>
<g transform="translate(1248,776) scale(1.0,1.0)">
<path d="M-18.4,45 L-12.5,51.8 L-11.4,50 L-14.5,44.5 Z" fill="#151515"/>
<path d="M9.2,49.8 L17.3,45.8 L16,44 L9,46 Z" fill="#151515"/>
<path d="M-8.4,26 L-8.6,31 L-17.6,44.5 L-11.8,46.5 L-0.8,37 L8.4,47 L13.8,45.5 L7,28 L6.5,21.5 H-7.5 Z" fill="#F0500F"/>
<path d="M-6,13 C-12,15 -15,22 -13.5,31 L-9.5,31 C-10,24 -9,19 -6,17 Z" fill="#F7DE1E"/>
<circle cx="-11.3" cy="32.5" r="2.1" fill="#8a4a22"/>
<path d="M-7,13.5 Q-7,12.2 -5,12.2 H3.5 Q5.5,12.2 5.5,13.5 L6.5,22 H-7.5 Z" fill="#F7DE1E"/>
<rect x="-5" y="19.5" width="9" height="4" fill="#F0500F"/>
<path d="M-5.3,12.4 V20 M3.6,12.4 V20" stroke="#9a4a20" stroke-width="1.1" fill="none"/>
<path d="M3,12.6 C6,12.6 7.5,14 9,17 L15.5,27.5 L12.5,29.5 L5,19 Z" fill="#F7DE1E"/>
<circle cx="14.9" cy="29.6" r="2.1" fill="#8a4a22"/>
<rect x="-1.6" y="9.5" width="3.6" height="4" fill="#8a4a22"/>
<ellipse cx="0.3" cy="7.8" rx="4" ry="4.3" fill="#8a4a22"/>
<path d="M-5.8,6.6 C-5.8,-2.2 5.6,-2.2 5.6,5 L7.6,5.4 L7.4,6.8 L-5.8,6.8 Z" fill="#F5D327"/>
</g>
<g transform="translate(2263,667)">
<path d="M-9.3,50.4 H-1.5 V52.7 H-9.6 Z M0.5,50.4 H7.3 L7.8,52.7 H0.5 Z" fill="#2a0f10"/>
<path d="M-9,13.5 L-19.5,22.5 Q-21.5,24 -20.6,26 Q-19.8,27.6 -17.5,26.6 L-6,20.5 Z" fill="#F5A742"/>
<path d="M7,12 C10,12.5 11,15 12,18 L13,22 L10.6,31 L7.6,30 L9,22 L6,17 Z" fill="#F5A742"/>
<path d="M-9.3,14 Q-9.3,11.7 -6.5,11.7 H6.5 Q9.4,11.7 9.4,14 V25 H-9.3 Z" fill="#F5A742"/>
<path d="M-6.5,20.7 H5.5 L8,27 L8.2,50.6 H0.6 L-0.3,33 L-1.3,50.6 H-8.8 L-8.4,27 Z" fill="#F0500F"/>
<path d="M-6.2,11.8 V21 M4.8,11.8 V21" stroke="#F0500F" stroke-width="1.5" fill="none"/>
<rect x="-2.2" y="9" width="3.4" height="4" fill="#B07A3E"/>
<ellipse cx="-1" cy="7.4" rx="3.8" ry="4.2" fill="#A5763C"/>
<path d="M0.5,5 C4,5 4.5,9 2,11 C0.5,11 0,9 0.5,5 Z" fill="#1a1410"/>
<g transform="rotate(28 1.8 3.6)"><path d="M-4.4,4.6 C-4.4,-2.4 8,-2.4 8,4.6 Z" fill="#F7DE1E"/><rect x="-5.2" y="3.8" width="13.2" height="1.5" fill="#F7DE1E"/></g>
</g>
<g id="warehouse">
<path d="M1482.8,724.5 V642 L1617,615 L1753,642 V724.5 Z" fill="#FFD90A"/>
<path d="M1482.8,638.2 L1617,611 L1753,638.2 V646.8 L1617,618.8 L1482.8,646.8 Z" fill="#3E2D40"/>
<rect x="1507" y="657.5" width="96.75" height="67" fill="#6A8C98"/>
<rect x="1507" y="667.1" width="96.75" height="1.8" fill="#0A2A36"/>
<rect x="1507" y="678.6" width="96.75" height="1.8" fill="#0A2A36"/>
<rect x="1507" y="689.85" width="96.75" height="1.8" fill="#0A2A36"/>
<rect x="1507" y="701.1" width="96.75" height="1.8" fill="#0A2A36"/>
<rect x="1507" y="712.35" width="96.75" height="1.8" fill="#0A2A36"/>
<rect x="1632" y="657.5" width="96.75" height="67" fill="#6A8C98"/>
<rect x="1632" y="667.1" width="96.75" height="1.8" fill="#0A2A36"/>
<rect x="1632" y="678.6" width="96.75" height="1.8" fill="#0A2A36"/>
<rect x="1632" y="689.85" width="96.75" height="1.8" fill="#0A2A36"/>
<rect x="1632" y="701.1" width="96.75" height="1.8" fill="#0A2A36"/>
<rect x="1632" y="712.35" width="96.75" height="1.8" fill="#0A2A36"/>
</g>
<g id="car">
<rect x="1244.6" y="718.6" width="8" height="2.2" fill="#1a1a1a"/>
<rect x="1244.6" y="712.6" width="7.6" height="6.4" rx="1.6" fill="#F2B21B"/>
<path d="M1222,753.7 Q1219,753.7 1219,750 C1219,742 1222.5,733 1228,724.5 Q1230,721 1235,721 H1256 Q1261,721 1265,723.5 L1279.5,736.5 Q1281,737.8 1283.5,738 L1291,739 Q1299.5,741 1299.5,749 V751 Q1299.5,753.7 1296,753.7 Z" fill="#E22B30"/>
<path d="M1249.8,724.2 V738 H1237 C1231.5,738 1230,733 1232,729 Q1234,724.2 1240,724.2 Z" fill="#69C0BC" stroke="#ffffff" stroke-width="1"/>
<path d="M1252.6,724.2 H1256 Q1260,724.2 1263,727 L1275.5,738 H1252.6 Z" fill="#69C0BC" stroke="#ffffff" stroke-width="1"/>
<ellipse cx="1294.7" cy="743.7" rx="2" ry="4.2" transform="rotate(-42 1294.7 743.7)" fill="#F7D21E"/>
<circle cx="1233" cy="753.9" r="6.7" fill="#0A3238"/><circle cx="1282" cy="754.1" r="6.7" fill="#0A3238"/>
</g>
<g id="crane">
<g stroke="#3E2D40" stroke-width="3.2" fill="none">
<path d="M2307,626.5 L2341,660 M2341,626.5 L2307,660"/>
<path d="M2307,670 L2341,702 M2341,670 L2307,702"/>
<path d="M2307,724.6 L2341,758.3 M2341,724.6 L2307,758.3"/>
<path d="M2307,767.4 L2341,801 M2341,767.4 L2307,801"/>
<path d="M2307,807.5 L2341,841.2 M2341,807.5 L2307,841.2"/>
<path d="M2307,849.4 L2324,867 L2341,849.4"/>
<path d="M2296,560 L2169,612.5"/><path d="M2308.3,563.7 L2350.2,611.5"/>
</g>
<rect x="2296" y="552" width="12" height="317" fill="#F4A81D"/>
<rect x="2340" y="620" width="11.5" height="249" fill="#F4A81D"/>
<path d="M2094,617 L2120,611 H2393 V623.4 H2094 Z" fill="#F4A81D"/>
<rect x="2296" y="707.5" width="55.5" height="13.5" fill="#F4A81D"/>
<circle cx="2302" cy="714.2" r="3.9" fill="#1F6B75"/>
<circle cx="2316" cy="714.2" r="3.9" fill="#1F6B75"/>
<circle cx="2330" cy="714.2" r="3.9" fill="#1F6B75"/>
<circle cx="2344.5" cy="714.2" r="3.9" fill="#1F6B75"/>
<path d="M2281,883.75 V875 Q2281,867.5 2289,867.5 H2360 Q2367.75,867.5 2367.75,875 V883.75 Z" fill="#3E2D40"/>
<path d="M2351.5,576 H2388 V582 H2355.5 Z" fill="#3E2D40"/>
<path d="M2355.7,582 H2388 V612 H2355.7 Z" fill="#E8500F"/>
<path d="M2356.6,587 H2369.7 V600.5 L2356.6,607 Z" fill="#69C0BC"/>
<rect x="2374.8" y="587" width="7" height="14.5" fill="#69C0BC"/>
<path d="M2163,623 H2189.5 Q2189.5,627.5 2185,627.5 H2167.5 Q2163,627.5 2163,623 Z" fill="#3E2D40"/>
<rect x="2168.8" y="627.5" width="2.4" height="23" fill="#F2F0F3"/>
<rect x="2175.4" y="627.5" width="2.4" height="23" fill="#F2F0F3"/>
<rect x="2182.3" y="627.5" width="2.4" height="23" fill="#F2F0F3"/>
<rect x="2165.5" y="635.5" width="23.5" height="6.5" fill="#3E2D40"/>
<rect x="2128.50" y="650.50" width="96.00" height="45.50" fill="#3AA79B"/>
<rect x="2133.09" y="656.41" width="3.30" height="34.12" fill="#17857F"/>
<rect x="2143.53" y="656.41" width="3.30" height="34.12" fill="#17857F"/>
<rect x="2153.97" y="656.41" width="3.30" height="34.12" fill="#17857F"/>
<rect x="2164.41" y="656.41" width="3.30" height="34.12" fill="#17857F"/>
<rect x="2174.85" y="656.41" width="3.30" height="34.12" fill="#17857F"/>
<rect x="2185.29" y="656.41" width="3.30" height="34.12" fill="#17857F"/>
<rect x="2195.73" y="656.41" width="3.30" height="34.12" fill="#17857F"/>
<rect x="2206.17" y="656.41" width="3.30" height="34.12" fill="#17857F"/>
<rect x="2216.61" y="656.41" width="3.30" height="34.12" fill="#17857F"/>
</g>
<g id="ship">
<rect x="1268" y="862" width="26.5" height="12" fill="#E8500F"/>
<path d="M1268,862 Q1268,855.5 1274,855.5 H1288.5 Q1294.5,855.5 1294.5,862 Z" fill="#E8500F"/>
<rect x="1268" y="862" width="26.5" height="5" fill="#ffffff"/>
<path d="M1253,873 H1333.75 L1328,878.5 V962 H1233.75 V921 H1253 Z" fill="#ffffff"/>
<rect x="1278" y="880.5" width="19" height="13.25" fill="#6BC0BC"/><rect x="1303.75" y="880.5" width="18.75" height="13.25" fill="#6BC0BC"/>
<circle cx="1266.75" cy="909" r="4.5" fill="#6BC0BC"/>
<circle cx="1282" cy="909" r="4.5" fill="#6BC0BC"/>
<circle cx="1297.75" cy="909" r="4.5" fill="#6BC0BC"/>
<circle cx="1313" cy="909" r="4.5" fill="#6BC0BC"/>
<circle cx="1266.75" cy="931.3" r="4.5" fill="#6BC0BC"/>
<circle cx="1282" cy="931.3" r="4.5" fill="#6BC0BC"/>
<path d="M1290.5,962 V941 Q1290.5,933 1298.5,933 H1308 Q1316,933 1316,941 V962" fill="none" stroke="#4a5a60" stroke-width="1.2"/>
<circle cx="1303.5" cy="945" r="4.3" fill="#6BC0BC"/>
<rect x="1348.00" y="888.50" width="82.50" height="39.00" fill="#3AA79B"/>
<rect x="1351.71" y="893.57" width="3.30" height="29.25" fill="#17857F"/>
<rect x="1360.68" y="893.57" width="3.30" height="29.25" fill="#17857F"/>
<rect x="1369.66" y="893.57" width="3.30" height="29.25" fill="#17857F"/>
<rect x="1378.63" y="893.57" width="3.30" height="29.25" fill="#17857F"/>
<rect x="1387.60" y="893.57" width="3.30" height="29.25" fill="#17857F"/>
<rect x="1396.57" y="893.57" width="3.30" height="29.25" fill="#17857F"/>
<rect x="1405.54" y="893.57" width="3.30" height="29.25" fill="#17857F"/>
<rect x="1414.52" y="893.57" width="3.30" height="29.25" fill="#17857F"/>
<rect x="1423.49" y="893.57" width="3.30" height="29.25" fill="#17857F"/>
<rect x="1348.00" y="927.50" width="82.50" height="36.00" fill="#E22B30"/>
<rect x="1351.71" y="932.18" width="3.30" height="27.00" fill="#A92A35"/>
<rect x="1360.68" y="932.18" width="3.30" height="27.00" fill="#A92A35"/>
<rect x="1369.66" y="932.18" width="3.30" height="27.00" fill="#A92A35"/>
<rect x="1378.63" y="932.18" width="3.30" height="27.00" fill="#A92A35"/>
<rect x="1387.60" y="932.18" width="3.30" height="27.00" fill="#A92A35"/>
<rect x="1396.57" y="932.18" width="3.30" height="27.00" fill="#A92A35"/>
<rect x="1405.54" y="932.18" width="3.30" height="27.00" fill="#A92A35"/>
<rect x="1414.52" y="932.18" width="3.30" height="27.00" fill="#A92A35"/>
<rect x="1423.49" y="932.18" width="3.30" height="27.00" fill="#A92A35"/>
<rect x="1430.50" y="888.50" width="82.00" height="39.00" fill="#2E8B3D"/>
<rect x="1434.18" y="893.57" width="3.30" height="29.25" fill="#A8D86E"/>
<rect x="1443.10" y="893.57" width="3.30" height="29.25" fill="#A8D86E"/>
<rect x="1452.01" y="893.57" width="3.30" height="29.25" fill="#A8D86E"/>
<rect x="1460.93" y="893.57" width="3.30" height="29.25" fill="#A8D86E"/>
<rect x="1469.85" y="893.57" width="3.30" height="29.25" fill="#A8D86E"/>
<rect x="1478.77" y="893.57" width="3.30" height="29.25" fill="#A8D86E"/>
<rect x="1487.68" y="893.57" width="3.30" height="29.25" fill="#A8D86E"/>
<rect x="1496.60" y="893.57" width="3.30" height="29.25" fill="#A8D86E"/>
<rect x="1505.52" y="893.57" width="3.30" height="29.25" fill="#A8D86E"/>
<rect x="1430.50" y="927.50" width="82.00" height="36.00" fill="#F2B21B"/>
<rect x="1434.18" y="932.18" width="3.30" height="27.00" fill="#FCE26A"/>
<rect x="1443.10" y="932.18" width="3.30" height="27.00" fill="#FCE26A"/>
<rect x="1452.01" y="932.18" width="3.30" height="27.00" fill="#FCE26A"/>
<rect x="1460.93" y="932.18" width="3.30" height="27.00" fill="#FCE26A"/>
<rect x="1469.85" y="932.18" width="3.30" height="27.00" fill="#FCE26A"/>
<rect x="1478.77" y="932.18" width="3.30" height="27.00" fill="#FCE26A"/>
<rect x="1487.68" y="932.18" width="3.30" height="27.00" fill="#FCE26A"/>
<rect x="1496.60" y="932.18" width="3.30" height="27.00" fill="#FCE26A"/>
<rect x="1505.52" y="932.18" width="3.30" height="27.00" fill="#FCE26A"/>
<rect x="1512.50" y="888.50" width="82.50" height="39.00" fill="#E22B30"/>
<rect x="1516.21" y="893.57" width="3.30" height="29.25" fill="#A92A35"/>
<rect x="1525.18" y="893.57" width="3.30" height="29.25" fill="#A92A35"/>
<rect x="1534.16" y="893.57" width="3.30" height="29.25" fill="#A92A35"/>
<rect x="1543.13" y="893.57" width="3.30" height="29.25" fill="#A92A35"/>
<rect x="1552.10" y="893.57" width="3.30" height="29.25" fill="#A92A35"/>
<rect x="1561.07" y="893.57" width="3.30" height="29.25" fill="#A92A35"/>
<rect x="1570.04" y="893.57" width="3.30" height="29.25" fill="#A92A35"/>
<rect x="1579.02" y="893.57" width="3.30" height="29.25" fill="#A92A35"/>
<rect x="1587.99" y="893.57" width="3.30" height="29.25" fill="#A92A35"/>
<rect x="1512.50" y="927.50" width="82.50" height="36.00" fill="#3AA79B"/>
<rect x="1516.21" y="932.18" width="3.30" height="27.00" fill="#17857F"/>
<rect x="1525.18" y="932.18" width="3.30" height="27.00" fill="#17857F"/>
<rect x="1534.16" y="932.18" width="3.30" height="27.00" fill="#17857F"/>
<rect x="1543.13" y="932.18" width="3.30" height="27.00" fill="#17857F"/>
<rect x="1552.10" y="932.18" width="3.30" height="27.00" fill="#17857F"/>
<rect x="1561.07" y="932.18" width="3.30" height="27.00" fill="#17857F"/>
<rect x="1570.04" y="932.18" width="3.30" height="27.00" fill="#17857F"/>
<rect x="1579.02" y="932.18" width="3.30" height="27.00" fill="#17857F"/>
<rect x="1587.99" y="932.18" width="3.30" height="27.00" fill="#17857F"/>
<rect x="1595.00" y="888.50" width="82.50" height="39.00" fill="#F2B21B"/>
<rect x="1598.71" y="893.57" width="3.30" height="29.25" fill="#FCE26A"/>
<rect x="1607.68" y="893.57" width="3.30" height="29.25" fill="#FCE26A"/>
<rect x="1616.66" y="893.57" width="3.30" height="29.25" fill="#FCE26A"/>
<rect x="1625.63" y="893.57" width="3.30" height="29.25" fill="#FCE26A"/>
<rect x="1634.60" y="893.57" width="3.30" height="29.25" fill="#FCE26A"/>
<rect x="1643.57" y="893.57" width="3.30" height="29.25" fill="#FCE26A"/>
<rect x="1652.54" y="893.57" width="3.30" height="29.25" fill="#FCE26A"/>
<rect x="1661.52" y="893.57" width="3.30" height="29.25" fill="#FCE26A"/>
<rect x="1670.49" y="893.57" width="3.30" height="29.25" fill="#FCE26A"/>
<rect x="1595.00" y="927.50" width="82.50" height="36.00" fill="#2E8B3D"/>
<rect x="1598.71" y="932.18" width="3.30" height="27.00" fill="#A8D86E"/>
<rect x="1607.68" y="932.18" width="3.30" height="27.00" fill="#A8D86E"/>
<rect x="1616.66" y="932.18" width="3.30" height="27.00" fill="#A8D86E"/>
<rect x="1625.63" y="932.18" width="3.30" height="27.00" fill="#A8D86E"/>
<rect x="1634.60" y="932.18" width="3.30" height="27.00" fill="#A8D86E"/>
<rect x="1643.57" y="932.18" width="3.30" height="27.00" fill="#A8D86E"/>
<rect x="1652.54" y="932.18" width="3.30" height="27.00" fill="#A8D86E"/>
<rect x="1661.52" y="932.18" width="3.30" height="27.00" fill="#A8D86E"/>
<rect x="1670.49" y="932.18" width="3.30" height="27.00" fill="#A8D86E"/>
<rect x="1677.50" y="888.50" width="82.50" height="39.00" fill="#3AA79B"/>
<rect x="1681.21" y="893.57" width="3.30" height="29.25" fill="#17857F"/>
<rect x="1690.18" y="893.57" width="3.30" height="29.25" fill="#17857F"/>
<rect x="1699.16" y="893.57" width="3.30" height="29.25" fill="#17857F"/>
<rect x="1708.13" y="893.57" width="3.30" height="29.25" fill="#17857F"/>
<rect x="1717.10" y="893.57" width="3.30" height="29.25" fill="#17857F"/>
<rect x="1726.07" y="893.57" width="3.30" height="29.25" fill="#17857F"/>
<rect x="1735.04" y="893.57" width="3.30" height="29.25" fill="#17857F"/>
<rect x="1744.02" y="893.57" width="3.30" height="29.25" fill="#17857F"/>
<rect x="1752.99" y="893.57" width="3.30" height="29.25" fill="#17857F"/>
<rect x="1677.50" y="927.50" width="82.50" height="36.00" fill="#E22B30"/>
<rect x="1681.21" y="932.18" width="3.30" height="27.00" fill="#A92A35"/>
<rect x="1690.18" y="932.18" width="3.30" height="27.00" fill="#A92A35"/>
<rect x="1699.16" y="932.18" width="3.30" height="27.00" fill="#A92A35"/>
<rect x="1708.13" y="932.18" width="3.30" height="27.00" fill="#A92A35"/>
<rect x="1717.10" y="932.18" width="3.30" height="27.00" fill="#A92A35"/>
<rect x="1726.07" y="932.18" width="3.30" height="27.00" fill="#A92A35"/>
<rect x="1735.04" y="932.18" width="3.30" height="27.00" fill="#A92A35"/>
<rect x="1744.02" y="932.18" width="3.30" height="27.00" fill="#A92A35"/>
<rect x="1752.99" y="932.18" width="3.30" height="27.00" fill="#A92A35"/>
<path d="M1238,989 L1246,1003 L1244.5,1026.75 H1828.3 Q1829.5,1006 1834,989 Z" fill="#3E2D40"/>
<path d="M1223.75,961.75 H1742 L1767,947.5 H1853.5 Q1841.5,967 1833.3,990.5 H1237.5 C1230,982 1225,972 1223.75,961.75 Z" fill="#E8500F"/>
<rect x="1244.5" y="968" width="7" height="3" rx="1.2" fill="#1a1014"/>
<rect x="1260" y="968" width="7" height="3" rx="1.2" fill="#1a1014"/>
<rect x="1811.5" y="953" width="7" height="2.8" rx="1.2" fill="#1a1014"/>
<rect x="1832.75" y="953" width="7" height="2.8" rx="1.2" fill="#1a1014"/>
<rect x="1793.5" y="953" width="6" height="2.8" rx="1.2" fill="#1a1014"/>
<path d="M1814,962.5 H1841.5 M1818.5,968 H1838.5 M1822.75,973.5 H1835.25" stroke="#F8E7D0" stroke-width="1.5" fill="none"/>
<rect x="1812" y="886" width="5.75" height="62" fill="#ffffff"/>
<rect x="1804" y="902.5" width="9" height="4.25" fill="#ffffff"/><rect x="1800" y="917.5" width="13" height="4.25" fill="#ffffff"/>
<path d="M1817.5,903 L1845.5,947" stroke="#ffffff" stroke-width="1" fill="none"/>
</g>
<g id="tug">
<rect x="2145" y="877.5" width="3.5" height="34" fill="#1F5F69"/><rect x="2148" y="888.5" width="6" height="2.6" fill="#1F5F69"/><rect x="2148" y="898" width="8.5" height="2.6" fill="#1F5F69"/>
<path d="M2245.75,996 V970 L2259,956.5" stroke="#14505C" stroke-width="6.2" fill="none" stroke-linejoin="miter"/>
<path d="M2127.75,917 H2209 L2203.5,940.5 V945.5 H2133.5 V940.5 Z" fill="#D5D3D6"/>
<rect x="2122" y="911" width="93" height="6.5" fill="#ffffff"/>
<path d="M2130.5,920.5 H2139 V938.5 H2135 Z" fill="#6BC0BC"/>
<rect x="2145.25" y="920.5" width="12.5" height="18" fill="#6BC0BC"/>
<rect x="2163.5" y="920.5" width="12.5" height="18" fill="#6BC0BC"/>
<rect x="2181.5" y="920.5" width="12.5" height="18" fill="#6BC0BC"/>
<path d="M2200,920.5 H2206.5 L2202,938.5 H2200 Z" fill="#6BC0BC"/>
<rect x="2113.5" y="945" width="110" height="52" fill="#ffffff"/>
<rect x="2113.5" y="951" width="110" height="6.5" fill="#E22B30"/>
<circle cx="2131.5" cy="970" r="5" fill="#6BC0BC"/>
<circle cx="2152" cy="970" r="5" fill="#6BC0BC"/>
<circle cx="2172.75" cy="970" r="5" fill="#6BC0BC"/>
<path d="M2187,997 V971 Q2187,963 2195,963 H2205.5 Q2213.5,963 2213.5,971 V997" fill="none" stroke="#4a5a60" stroke-width="1.1"/>
<circle cx="2200" cy="975.5" r="4.4" fill="#6BC0BC"/>
<defs><clipPath id="tughull"><path id="tughullp" d="M2059,984 C2059,972 2066,968 2074,969.5 C2110,979 2160,993 2230,995.5 C2270,996 2300,992 2326,987 Q2340,985 2340,999 C2340,1012 2336,1024 2322,1024 H2082 C2064,1024 2059,1004 2059,984 Z"/></clipPath></defs>
<use href="#tughullp" fill="#6F8794"/>
<g clip-path="url(#tughull)"><path d="M2050,981.5 C2090,991 2127,998.5 2160,1002.5 C2190,1005.5 2215,1006.5 2240,1006.5 C2275,1006.5 2310,1003.5 2345,996 V1030 H2050 Z" fill="#36606E"/></g>
<circle cx="2081.5" cy="989" r="8.2" fill="#4F6E7B" stroke="#0F4F5A" stroke-width="4.2"/>
<path d="M2075.4,989 A6.1,6.1 0 0 1 2087.6,989 Z" fill="#6F8794"/>
<circle cx="2107.75" cy="995.5" r="8.2" fill="#4F6E7B" stroke="#0F4F5A" stroke-width="4.2"/>
<path d="M2101.65,995.5 A6.1,6.1 0 0 1 2113.85,995.5 Z" fill="#6F8794"/>
<circle cx="2134.5" cy="1000" r="8.2" fill="#4F6E7B" stroke="#0F4F5A" stroke-width="4.2"/>
<path d="M2128.4,1000 A6.1,6.1 0 0 1 2140.6,1000 Z" fill="#6F8794"/>
<circle cx="2269" cy="1009" r="8.2" fill="#4F6E7B" stroke="#0F4F5A" stroke-width="4.2"/>
<path d="M2262.9,1009 A6.1,6.1 0 0 1 2275.1,1009 Z" fill="#6F8794"/>
<circle cx="2296" cy="1006.75" r="8.2" fill="#4F6E7B" stroke="#0F4F5A" stroke-width="4.2"/>
<path d="M2289.9,1006.75 A6.1,6.1 0 0 1 2302.1,1006.75 Z" fill="#6F8794"/>
<circle cx="2322.75" cy="1003" r="8.2" fill="#4F6E7B" stroke="#0F4F5A" stroke-width="4.2"/>
<path d="M2316.65,1003 A6.1,6.1 0 0 1 2328.85,1003 Z" fill="#6F8794"/>
</g>
<circle cx="1297" cy="506.5" r="67" fill="#ffffff"/>
<text x="1298.5" y="473" font-size="17.3" text-anchor="middle" font-weight="normal" fill="#0d0d0d" textLength="80" lengthAdjust="spacingAndGlyphs">Wie viele</text>
<text x="1298" y="495.3" font-size="17.3" text-anchor="middle" font-weight="bold" fill="#0d0d0d" textLength="85.5" lengthAdjust="spacingAndGlyphs">Verkehrs-</text>
<text x="1297.3" y="517.5" font-size="17.3" text-anchor="middle" font-weight="bold" fill="#0d0d0d" textLength="75.5" lengthAdjust="spacingAndGlyphs">hütchen</text>
<text x="1298.5" y="540" font-size="17.3" text-anchor="middle" font-weight="normal" fill="#0d0d0d" textLength="88" lengthAdjust="spacingAndGlyphs">kannst du</text>
<text x="1297" y="562" font-size="17.3" text-anchor="middle" font-weight="normal" fill="#0d0d0d" textLength="70" lengthAdjust="spacingAndGlyphs">zählen?</text>
<circle cx="1862.5" cy="684" r="66" fill="#ffffff"/>
<text x="1863.25" y="658" font-size="17.3" text-anchor="middle" font-weight="normal" fill="#0d0d0d" textLength="66.5" lengthAdjust="spacingAndGlyphs">Stoppe</text>
<text x="1863" y="680" font-size="17.3" text-anchor="middle" fill="#0d0d0d" textLength="93" lengthAdjust="spacingAndGlyphs">beim <tspan font-weight="bold">Kran</tspan></text>
<text x="1862.5" y="702" font-size="17.3" text-anchor="middle" font-weight="normal" fill="#0d0d0d" textLength="40" lengthAdjust="spacingAndGlyphs">zum</text>
<text x="1863.7" y="724" font-size="17.3" text-anchor="middle" font-weight="normal" fill="#0d0d0d" textLength="86" lengthAdjust="spacingAndGlyphs">Entladen!</text>
<text x="1799.3" y="97" font-size="26.4" text-anchor="middle" font-weight="normal" fill="#0d0d0d" stroke="#0d0d0d" stroke-width="0.35" textLength="305" lengthAdjust="spacingAndGlyphs">Fahre diesen Güterzug</text>
<text x="1800" y="138.5" font-size="26.4" text-anchor="middle" font-weight="normal" fill="#0d0d0d" stroke="#0d0d0d" stroke-width="0.35" textLength="240" lengthAdjust="spacingAndGlyphs">zum Schiffshafen.</text>
</g></g>
</svg>
</body></html>
